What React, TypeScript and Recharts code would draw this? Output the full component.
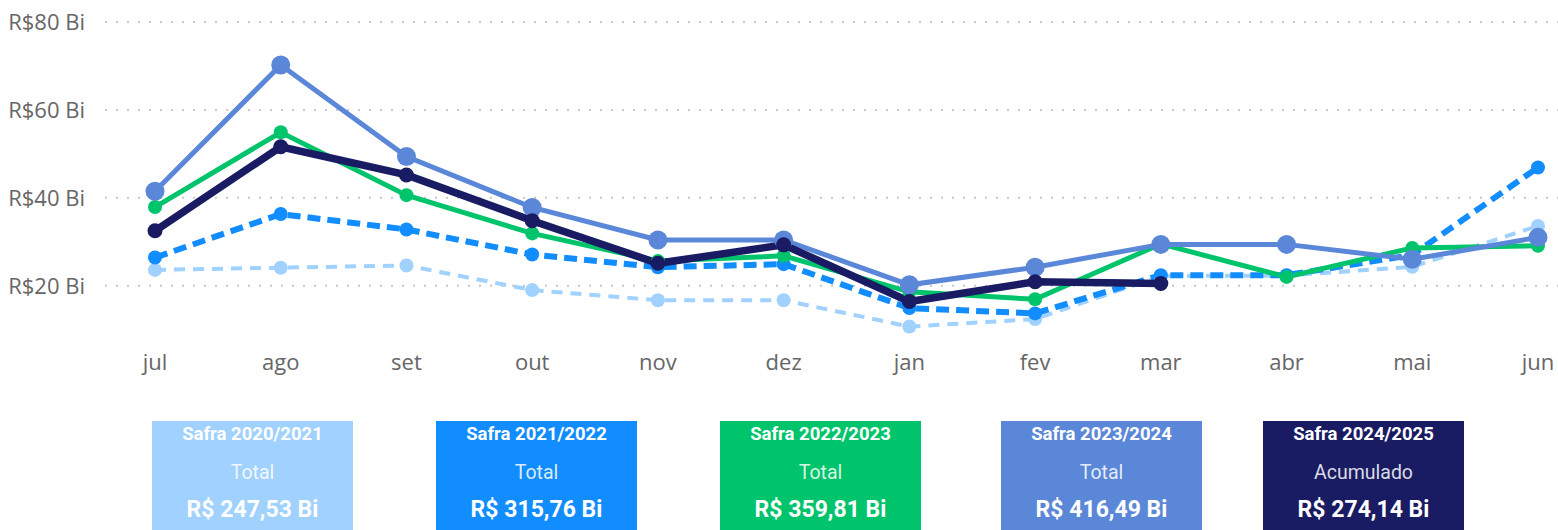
import { CartesianGrid, Line, LineChart, XAxis, YAxis } from "recharts";

const months = ["jul", "ago", "set", "out", "nov", "dez", "jan", "fev", "mar", "abr", "mai", "jun"];
const safra2021 = [23.6, 24.1, 24.6, 19.0, 16.7, 16.7, 10.7, 12.4, 22.2, 22.3, 24.3, 33.6];
const safra2122 = [26.4, 36.3, 32.8, 27.1, 24.2, 24.9, 14.9, 13.7, 22.4, 22.4, 27.0, 46.9];
const safra2223 = [37.9, 54.9, 40.6, 31.9, 25.6, 26.8, 18.6, 16.9, 29.5, 22.0, 28.6, 29.1];
const safra2324 = [41.5, 70.2, 49.4, 37.8, 30.4, 30.4, 20.2, 24.2, 29.4, 29.4, 26.0, 31.0];
const safra2425 = [32.5, 51.6, 45.2, 34.8, 25.1, 29.3, 16.4, 20.9, 20.5, null, null, null];
const yTicks = [20, 40, 60, 80];

const cardTitles = ["Safra 2020/2021", "Safra 2021/2022", "Safra 2022/2023", "Safra 2023/2024", "Safra 2024/2025"];
const cardLabels = ["Total", "Total", "Total", "Total", "Acumulado"];
const cardTotals = ["R$ 247,53 Bi", "R$ 315,76 Bi", "R$ 359,81 Bi", "R$ 416,49 Bi", "R$ 274,14 Bi"];

const colors = ["#a0d1ff", "#118dff", "#00c46b", "#5b87d8", "#191b63"];
const cardLeft = [152, 436, 720, 1001, 1263];

const data = months.map((m, i) => ({
  month: m,
  s2021: safra2021[i],
  s2122: safra2122[i],
  s2223: safra2223[i],
  s2324: safra2324[i],
  s2425: safra2425[i],
}));

const font = "'Open Sans', 'Noto Sans', sans-serif";
const axisText = "#666666";

export default function App() {
  return (
    <div style={{ position: "absolute", left: 0, top: 0, width: 1558, height: 530, background: "#fff" }}>
      <LineChart width={1558} height={400} data={data} margin={{ top: 22, right: 0, left: 0, bottom: 0 }}>
        <CartesianGrid
          horizontal
          vertical={false}
          syncWithTicks
          stroke="#c8c8c8"
          strokeWidth={2}
          strokeDasharray="2 9"
        />
        <XAxis
          dataKey="month"
          height={26.4}
          axisLine={false}
          tickLine={false}
          tickMargin={-25}
          padding={{ left: 50, right: 20 }}
          tick={{ fill: axisText, fontSize: 22, fontFamily: font }}
          interval={0}
        />
        <YAxis
          width={105}
          domain={[0, 80]}
          ticks={yTicks}
          axisLine={false}
          tickLine={false}
          tickMargin={14}
          tickFormatter={(v) => `R$${v} Bi`}
          tick={{ fill: axisText, fontSize: 22, fontFamily: font }}
        />
        <Line
          dataKey="s2021"
          stroke={colors[0]}
          strokeWidth={4}
          strokeDasharray="11 8"
          dot={{ r: 7, fill: colors[0], strokeWidth: 0 }}
          isAnimationActive={false}
        />
        <Line
          dataKey="s2122"
          stroke={colors[1]}
          strokeWidth={6}
          strokeDasharray="13 7"
          dot={{ r: 7, fill: colors[1], strokeWidth: 0 }}
          isAnimationActive={false}
        />
        <Line
          dataKey="s2223"
          stroke={colors[2]}
          strokeWidth={5}
          dot={{ r: 7, fill: colors[2], strokeWidth: 0 }}
          isAnimationActive={false}
        />
        <Line
          dataKey="s2324"
          stroke={colors[3]}
          strokeWidth={5}
          dot={{ r: 9.5, fill: colors[3], strokeWidth: 0 }}
          isAnimationActive={false}
        />
        <Line
          dataKey="s2425"
          stroke={colors[4]}
          strokeWidth={7.5}
          dot={{ r: 7.5, fill: colors[4], strokeWidth: 0 }}
          isAnimationActive={false}
        />
      </LineChart>
      {cardTitles.map((t, i) => (
        <div
          key={t}
          style={{
            position: "absolute",
            left: cardLeft[i],
            top: 421,
            width: 201,
            height: 109,
            background: colors[i],
            color: "#fff",
            fontFamily: "Roboto, sans-serif",
            textAlign: "center",
          }}
        >
          <div style={{ position: "absolute", top: 1, width: "100%", fontSize: 18.5, fontWeight: 700, lineHeight: "24px" }}>
            {t}
          </div>
          <div
            style={{
              position: "absolute",
              top: 40,
              width: "100%",
              fontSize: 19.5,
              fontWeight: 400,
              lineHeight: "24px",
              color: "rgba(255,255,255,0.85)",
            }}
          >
            {cardLabels[i]}
          </div>
          <div style={{ position: "absolute", top: 75, width: "100%", fontSize: 23, fontWeight: 700, lineHeight: "28px" }}>
            {cardTotals[i]}
          </div>
        </div>
      ))}
    </div>
  );
}
